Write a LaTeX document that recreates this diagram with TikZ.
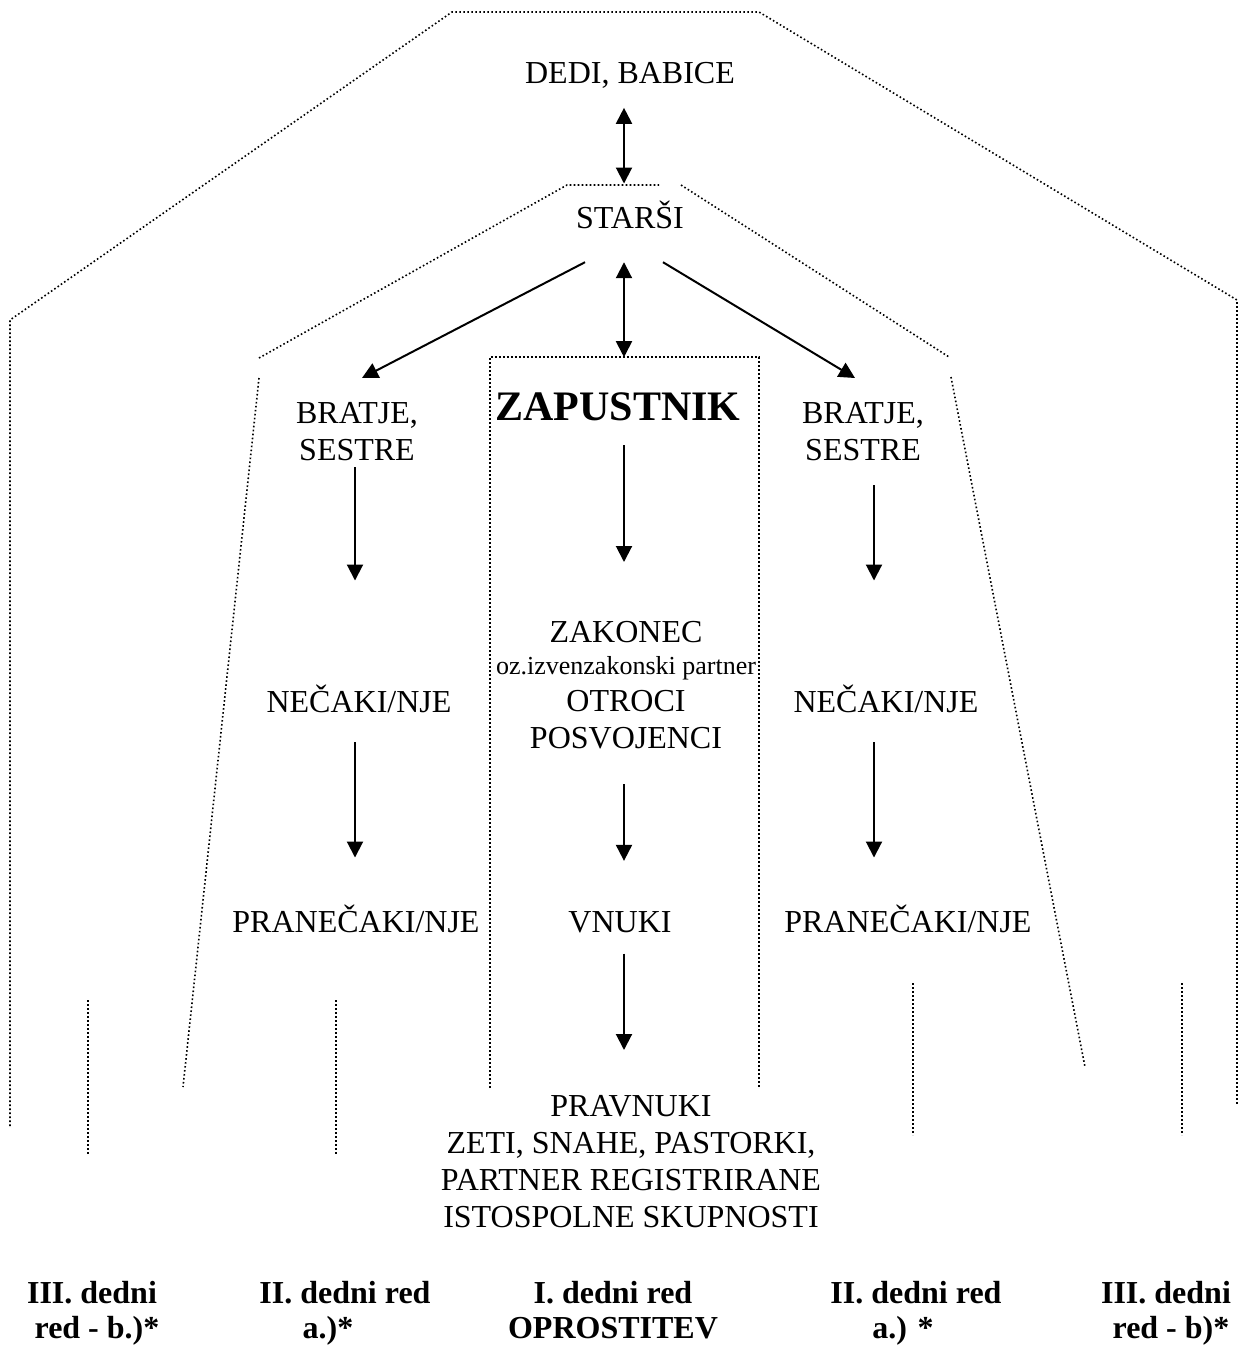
\documentclass[tikz,border=0pt]{standalone}
\usepackage{fontspec}
\setmainfont{Liberation Serif}
\usepackage{tikz}
\usetikzlibrary{arrows.meta}

\begin{document}
\begin{tikzpicture}[x=0.5pt, y=-0.5pt,
	txt/.style={inner sep=0pt, font=\fontsize{16}{18.5}\selectfont, align=center},
	ordr/.style={inner sep=0pt, anchor=north, font=\bfseries\fontsize{16}{17.5}\selectfont, align=center},
	zone/.style={line width=0.8pt, dash pattern=on 0.8pt off 1.2pt},
	arr/.style={-{Triangle[length=8pt, width=8pt]}, line width=1pt},
	dblarr/.style={{Triangle[length=8pt, width=8pt]}-{Triangle[length=8pt, width=8pt]}, line width=1pt}]
			\useasboundingbox (0,0) rectangle (1239,1345);
			
			\coordinate (colL) at (355,0);
			\coordinate (colC) at (624,0);
			\coordinate (colR) at (874,0);
			
			\node[txt, anchor=base] (dedi) at (630,83) {DEDI, BABICE};
			\node[txt, anchor=base] (starsi) at (630,228) {STARŠI};
			\node[txt, anchor=base, font=\bfseries\fontsize{21}{24}\selectfont] (zap) at (618,420) {ZAPUSTNIK};
			\node[txt, anchor=north] (bratjeL) at (357,402) {BRATJE,\\SESTRE};
			\node[txt, anchor=north] (bratjeR) at (863,402) {BRATJE,\\SESTRE};
			
			\node[txt, anchor=base] (necakL) at (359,712) {NEČAKI/NJE};
			\node[txt, anchor=base] (necakR) at (886,712) {NEČAKI/NJE};
			\node[txt, anchor=north] (zak) at (626,621.4) {ZAKONEC\\[-2.5pt]{\fontsize{13}{15}\selectfont oz.izvenzakonski partner}\\OTROCI\\POSVOJENCI};
			
			\node[txt, anchor=base] (pranecL) at (356,932) {PRANEČAKI/NJE};
			\node[txt, anchor=base] (vnuki) at (620,932) {VNUKI};
			\node[txt, anchor=base] (pranecR) at (908,932) {PRANEČAKI/NJE};
			
			\node[txt, anchor=north] (pravnuki) at (631,1094.8) {PRAVNUKI\\ZETI, SNAHE, PASTORKI,\\PARTNER REGISTRIRANE\\ISTOSPOLNE SKUPNOSTI};
			
			\node[ordr] (red3L) at (92,1280.4) {III. dedni\\\hspace*{5pt}red - b.)*};
			\node[ordr] (red2L) at (345,1280.4) {II. dedni red\\a.)*\hspace*{17pt}};
			\node[ordr] (red1) at (613,1280.4) {I. dedni red\\OPROSTITEV};
			\node[ordr] (red2R) at (916,1280.4) {II. dedni red\\a.) *\hspace*{13pt}};
			\node[ordr] (red3R) at (1166,1280.4) {III. dedni\\\hspace*{5pt}red - b)*};
			
			\draw[zone] (10,1126) -- (10,320) -- (452,12) -- (759,12) -- (1237,300) -- (1237,1106);
			\draw[zone] (259,358) -- (567,185) -- (659,185);
			\draw[zone] (681,185) -- (949,357);
			\draw[zone] (259,378) -- (183,1087);
			\draw[zone] (951,377) -- (1085,1067);
			\draw[zone] (490,1088) -- (490,357) -- (759,357) -- (759,1088);
			\foreach \x/\ya/\yb in {88/1000/1154, 336/1000/1154, 913/983/1135, 1182/983/1135}
				\draw[zone] (\x,\ya) -- (\x,\yb);
			
			\draw[dblarr, shorten <=9.75pt, shorten >=8.3pt] (dedi.south -| colC) -- (starsi.north -| colC);
			\draw[dblarr, shorten <=16.75pt, shorten >=17.3pt] (starsi.south -| colC) -- (zap.north -| colC);
			\draw[arr] ([xshift=-22.5pt, yshift=-16.75pt]starsi.south) -- ([xshift=2.5pt, yshift=12pt]bratjeL.north);
			\draw[arr] ([xshift=16.5pt, yshift=-16.75pt]starsi.south) -- ([xshift=-4pt, yshift=12pt]bratjeR.north);
			
			\draw[arr, shorten <=12.2pt, shorten >=29.7pt] (zap.south -| colC) -- (zak.north -| colC);
			\draw[arr, shorten <=17.25pt, shorten >=24.9pt] (zak.south -| colC) -- (vnuki.north -| colC);
			\draw[arr, shorten <=10.35pt, shorten >=22.4pt] (vnuki.south -| colC) -- (pravnuki.north -| colC);
			
			\draw[arr, shorten <=3pt, shorten >=51.8pt] (bratjeL.south -| colL) -- (necakL.north -| colL);
			\draw[arr, shorten <=14.75pt, shorten >=23.3pt] (necakL.south -| colL) -- (pranecL.north -| colL);
			\draw[arr, shorten <=12pt, shorten >=51.8pt] (bratjeR.south -| colR) -- (necakR.north -| colR);
			\draw[arr, shorten <=14.75pt, shorten >=23.3pt] (necakR.south -| colR) -- (pranecR.north -| colR);
			
		\end{tikzpicture}
\end{document}
